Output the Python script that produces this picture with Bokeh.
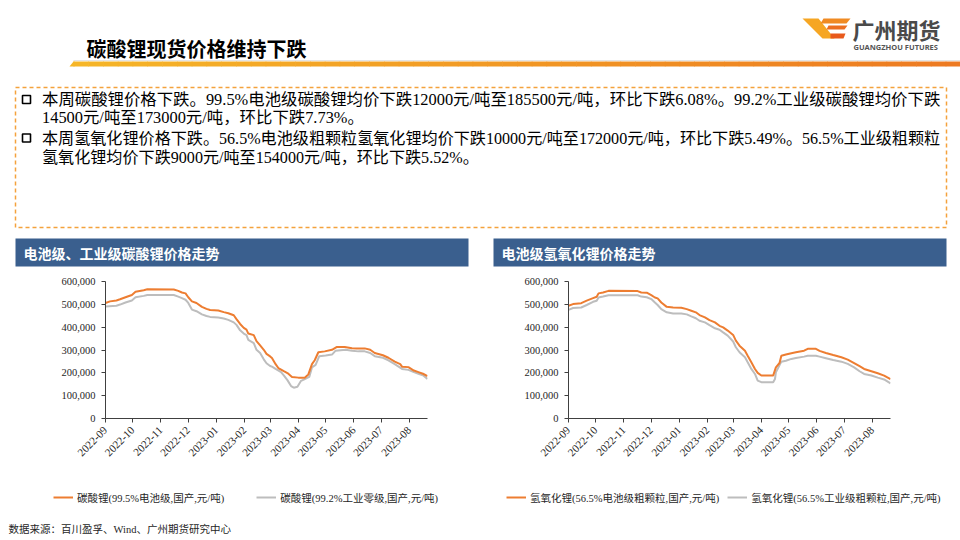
import math
import pandas as pd
from bokeh.plotting import figure
from bokeh.models import (Range1d, FixedTicker, DatetimeTickFormatter, NumeralTickFormatter,
                          Legend, LegendItem)
from bokeh.layouts import column, row
from bokeh.embed import file_html
from bokeh.resources import INLINE
from bokeh.core.properties import value

# ---------------- data ----------------
carb_bat_dates = ["2022-09-01", "2022-09-06", "2022-09-13", "2022-09-17", "2022-09-23", "2022-09-30",
                  "2022-10-04", "2022-10-13", "2022-10-17", "2022-11-15", "2022-11-20", "2022-11-24",
                  "2022-11-28", "2022-12-01", "2022-12-05", "2022-12-10", "2022-12-16", "2022-12-21",
                  "2022-12-25", "2023-01-03", "2023-01-09", "2023-01-14", "2023-01-20", "2023-01-23",
                  "2023-01-27", "2023-01-31", "2023-02-03", "2023-02-05", "2023-02-11", "2023-02-14",
                  "2023-02-18", "2023-02-22", "2023-02-25", "2023-03-01", "2023-03-03", "2023-03-07",
                  "2023-03-10", "2023-03-16", "2023-03-21", "2023-03-25", "2023-04-01", "2023-04-08",
                  "2023-04-12", "2023-04-16", "2023-04-19", "2023-04-23", "2023-04-30", "2023-05-08",
                  "2023-05-13", "2023-05-22", "2023-05-30", "2023-06-04", "2023-06-13", "2023-06-19",
                  "2023-06-24", "2023-07-03", "2023-07-09", "2023-07-16", "2023-07-22", "2023-07-24",
                  "2023-07-31", "2023-08-06", "2023-08-11", "2023-08-16", "2023-08-21"]
carb_bat = [506000, 513000, 517000, 522000, 531000, 541000,
            555000, 562000, 566000, 565000, 559000, 552000,
            548000, 531000, 513000, 506000, 489000, 480000,
            475000, 473000, 466000, 461000, 452000, 435000,
            414000, 397000, 389000, 372000, 365000, 339000,
            320000, 301000, 283000, 272000, 265000, 238000,
            221000, 207000, 196000, 182000, 179000, 179000,
            193000, 238000, 255000, 290000, 294000, 301000,
            313000, 313000, 308000, 307000, 307000, 301000,
            287000, 277000, 266000, 249000, 238000, 227000,
            225000, 210000, 203000, 196000, 185500]

carb_ind_dates = ["2022-09-01", "2022-09-13", "2022-09-17", "2022-09-23", "2022-09-30", "2022-10-04",
                  "2022-10-13", "2022-10-17", "2022-11-15", "2022-11-20", "2022-11-24", "2022-11-28",
                  "2022-12-01", "2022-12-05", "2022-12-10", "2022-12-16", "2022-12-21", "2022-12-25",
                  "2023-01-03", "2023-01-09", "2023-01-14", "2023-01-20", "2023-01-23", "2023-01-27",
                  "2023-01-31", "2023-02-03", "2023-02-05", "2023-02-11", "2023-02-14", "2023-02-18",
                  "2023-02-22", "2023-02-25", "2023-03-01", "2023-03-03", "2023-03-07", "2023-03-13",
                  "2023-03-16", "2023-03-20", "2023-03-24", "2023-03-27", "2023-03-31", "2023-04-04",
                  "2023-04-07", "2023-04-13", "2023-04-16", "2023-04-20", "2023-04-24", "2023-05-01",
                  "2023-05-08", "2023-05-12", "2023-05-23", "2023-05-30", "2023-06-06", "2023-06-13",
                  "2023-06-19", "2023-06-24", "2023-07-03", "2023-07-09", "2023-07-16", "2023-07-24",
                  "2023-07-31", "2023-08-06", "2023-08-11", "2023-08-16", "2023-08-21"]
carb_ind = [491000, 494000, 499000, 508000, 517000, 531000,
            537000, 541000, 541000, 534000, 527000, 520000,
            506000, 477000, 470000, 456000, 449000, 445000,
            442000, 438000, 432000, 421000, 410000, 386000,
            372000, 365000, 344000, 330000, 301000, 287000,
            259000, 242000, 230000, 227000, 217000, 203000,
            189000, 168000, 142000, 135000, 139000, 165000,
            170000, 182000, 224000, 235000, 273000, 276000,
            280000, 297000, 301000, 297000, 294000, 294000,
            287000, 273000, 266000, 255000, 238000, 217000,
            213000, 203000, 196000, 189000, 173000]

hyd_bat_dates = ["2022-09-01", "2022-09-06", "2022-09-15", "2022-09-21", "2022-09-28", "2022-10-02",
                 "2022-10-04", "2022-10-09", "2022-10-15", "2022-11-16", "2022-11-20", "2022-11-26",
                 "2022-12-01", "2022-12-05", "2022-12-08", "2022-12-12", "2022-12-18", "2022-12-25",
                 "2023-01-03", "2023-01-09", "2023-01-14", "2023-01-19", "2023-01-23", "2023-01-29",
                 "2023-02-03", "2023-02-09", "2023-02-14", "2023-02-18", "2023-02-23", "2023-03-01",
                 "2023-03-04", "2023-03-08", "2023-03-14", "2023-03-17", "2023-03-21", "2023-03-25",
                 "2023-03-28", "2023-04-01", "2023-04-14", "2023-04-17", "2023-04-21", "2023-04-23",
                 "2023-04-28", "2023-05-04", "2023-05-09", "2023-05-18", "2023-05-22", "2023-05-31",
                 "2023-06-04", "2023-06-11", "2023-06-19", "2023-06-28", "2023-07-05", "2023-07-12",
                 "2023-07-18", "2023-07-23", "2023-07-31", "2023-08-07", "2023-08-14", "2023-08-21"]
hyd_bat = [494000, 501000, 505000, 516000, 527000, 533000,
           548000, 552000, 559000, 558000, 552000, 551000,
           540000, 530000, 526000, 508000, 489000, 486000,
           485000, 479000, 472000, 465000, 453000, 443000,
           431000, 421000, 406000, 399000, 385000, 366000,
           341000, 319000, 297000, 275000, 246000, 217000,
           200000, 188000, 188000, 224000, 243000, 275000,
           280000, 286000, 290000, 297000, 305000, 305000,
           296000, 287000, 278000, 268000, 258000, 243000,
           229000, 217000, 207000, 198000, 188000, 172000]

hyd_ind_dates = ["2022-09-01", "2022-09-06", "2022-09-15", "2022-09-21", "2022-09-28", "2022-10-02",
                 "2022-10-04", "2022-10-09", "2022-10-15", "2022-11-16", "2022-11-20", "2022-11-26",
                 "2022-12-01", "2022-12-05", "2022-12-08", "2022-12-12", "2022-12-18", "2022-12-25",
                 "2023-01-03", "2023-01-09", "2023-01-14", "2023-01-19", "2023-01-23", "2023-01-29",
                 "2023-02-03", "2023-02-09", "2023-02-14", "2023-02-18", "2023-02-23", "2023-03-01",
                 "2023-03-04", "2023-03-08", "2023-03-14", "2023-03-17", "2023-03-21", "2023-03-25",
                 "2023-03-28", "2023-04-01", "2023-04-14", "2023-04-16", "2023-04-17", "2023-04-23",
                 "2023-04-28", "2023-05-04", "2023-05-09", "2023-05-18", "2023-05-22", "2023-05-31",
                 "2023-06-04", "2023-06-11", "2023-06-19", "2023-06-28", "2023-07-05", "2023-07-12",
                 "2023-07-18", "2023-07-23", "2023-07-31", "2023-08-07", "2023-08-14", "2023-08-21"]
hyd_ind = [476000, 484000, 486000, 497000, 511000, 516000,
           530000, 534000, 540000, 540000, 534000, 531000,
           523000, 508000, 497000, 479000, 465000, 460000,
           460000, 456000, 447000, 439000, 428000, 421000,
           409000, 395000, 389000, 377000, 363000, 337000,
           312000, 290000, 268000, 246000, 217000, 195000,
           166000, 159000, 159000, 173000, 202000, 249000,
           253000, 261000, 265000, 271000, 275000, 275000,
           271000, 264000, 256000, 249000, 239000, 224000,
           207000, 195000, 188000, 179000, 171000, 154000]

month_ticks = ["2022-09-01", "2022-10-01", "2022-11-01", "2022-12-01", "2023-01-01", "2023-02-01",
               "2023-03-01", "2023-04-01", "2023-05-01", "2023-06-01", "2023-07-01", "2023-08-01"]
y_ticks = [0, 100000, 200000, 300000, 400000, 500000, 600000]

labels_left = ["碳酸锂(99.5%电池级,国产,元/吨)", "碳酸锂(99.2%工业零级,国产,元/吨)"]
labels_right = ["氢氧化锂(56.5%电池级粗颗粒,国产,元/吨)", "氢氧化锂(56.5%工业级粗颗粒,国产,元/吨)"]

page_title = "碳酸锂现货价格维持下跌"
chart_titles = ["电池级、工业级碳酸锂价格走势", "电池级氢氧化锂价格走势"]
body_lines = [
    "本周碳酸锂价格下跌。99.5%电池级碳酸锂均价下跌12000元/吨至185500元/吨，环比下跌6.08%。99.2%工业级碳酸锂均价下跌",
    "14500元/吨至173000元/吨，环比下跌7.73%。",
    "本周氢氧化锂价格下跌。56.5%电池级粗颗粒氢氧化锂均价下跌10000元/吨至172000元/吨，环比下跌5.49%。56.5%工业级粗颗粒",
    "氢氧化锂均价下跌9000元/吨至154000元/吨，环比下跌5.52%。",
]
source_text = "数据来源：百川盈孚、Wind、广州期货研究中心"

# ---------------- styles ----------------
SANS = "Noto Sans CJK SC"
SERIF = "Liberation Serif, Noto Sans CJK SC"
ORANGE = "#ED7D31"
GRAY = "#BDBDBD"
BLUE = "#3A5F8E"
W = 960


def blank(width, height):
    f = figure(width=width, height=height, x_range=Range1d(0, width), y_range=Range1d(height, 0),
               x_axis_location=None, y_axis_location=None, output_backend="svg",
               toolbar_location=None, min_border=0)
    f.grid.visible = False
    f.outline_line_color = None
    return f


# ---------------- header figure ----------------
top = blank(W, 270)

# gradient rule under the title
n = 60
x0, x1 = 73, W
xs = [x0 + (x1 - x0) * i / n for i in range(n + 1)]
c0, c1 = (246, 182, 40), (237, 122, 34)
cols = ["#%02x%02x%02x" % tuple(int(c0[k] + (c1[k] - c0[k]) * i / (n - 1)) for k in range(3))
        for i in range(n)]
top.segment(x0=[73], y0=[60], x1=[W], y1=[60], line_color="#E3E3E3", line_width=1)
top.quad(left=xs[:-1], right=[v + 0.6 for v in xs[1:]], top=61, bottom=66, color=cols, line_width=0)
top.patch(x=[69, 73, 74, 74], y=[66, 61, 61, 66], color=cols[0], line_width=0)

# title
top.text(x=[86], y=[48], text=[page_title], text_font=value(SANS), text_font_style="bold",
         text_font_size="20px", text_baseline="middle", text_color="#000000")

# logo
top.patches(xs=[[802, 818, 834, 822], [823, 850, 846, 820], [828, 847, 844, 826], [830, 845, 843, 830]],
            ys=[[18, 18, 38, 38], [18, 18, 23, 23], [25, 25, 29, 29], [33, 33, 38, 38]],
            color=["#F6A623", "#F08A22", "#EC6E1F", "#E85A1C"], line_width=0)
top.text(x=[852], y=[28], text=["广州期货"], text_font=value(SANS), text_font_style="bold",
         text_font_size="22px", text_baseline="middle", text_color="#4A4A4A")
top.text(x=[853], y=[46], text=["GUANGZHOU FUTURES"], text_font=value("Noto Sans"),
         text_font_style="bold", text_font_size="7.5px", text_baseline="middle", text_color="#555555")

# dashed box with text
top.quad(left=15, right=946, top=87, bottom=227, fill_color=None, line_color="#F4A23C",
         line_dash="4 3", line_width=1.5)
top.scatter(x=[26, 26], y=[99, 137.5], marker="square", size=8, fill_color=None,
            line_color="#000000", line_width=1.6)
top.text(x=[41.5] * 2, y=[99, 116.5], text=body_lines[:2], text_font=value(SERIF),
         text_font_size="16.4px", text_baseline="middle", text_color="#000000")
top.text(x=[41.5] * 2, y=[137.5, 156.5], text=body_lines[2:], text_font=value(SERIF),
         text_font_size="16.1px", text_baseline="middle", text_color="#000000")

# blue chart headers
top.quad(left=[15, 493], right=[468, 946], top=238, bottom=266, color=BLUE, line_width=0)
top.text(x=[23, 501], y=[252, 252], text=chart_titles, text_font=value(SANS), text_font_style="bold",
         text_font_size="14px", text_baseline="middle", text_color="#FFFFFF")


# ---------------- charts ----------------
def make_chart(d1, v1, d2, v2, bl, br, bt, bb):
    f = figure(width=480, height=212, x_axis_type="datetime",
               x_range=Range1d(pd.Timestamp("2022-09-01"), pd.Timestamp("2023-08-21")),
               y_range=Range1d(0, 600000), output_backend="svg", toolbar_location=None,
               min_border_left=bl, min_border_right=br, min_border_top=bt, min_border_bottom=bb)
    f.grid.visible = False
    f.outline_line_color = None
    f.line(pd.to_datetime(d2), v2, line_color=GRAY, line_width=2)
    f.line(pd.to_datetime(d1), v1, line_color=ORANGE, line_width=2)

    f.yaxis.ticker = FixedTicker(ticks=y_ticks)
    f.yaxis.formatter = NumeralTickFormatter(format="0,0")
    f.xaxis.ticker = FixedTicker(ticks=[pd.Timestamp(t).timestamp() * 1000 for t in month_ticks])
    fmt = "%Y-%m"
    f.xaxis.formatter = DatetimeTickFormatter(milliseconds=fmt, seconds=fmt, minsec=fmt, minutes=fmt,
                                              hourmin=fmt, hours=fmt, days=fmt, months=fmt, years=fmt)
    f.xaxis.major_label_orientation = math.pi / 4
    for ax in (f.xaxis, f.yaxis):
        ax.axis_line_color = "#404040"
        ax.major_tick_line_color = "#404040"
        ax.major_tick_out = 4
        ax.major_tick_in = 0
        ax.minor_tick_line_color = None
        ax.major_label_text_font = SERIF
        ax.major_label_text_color = "#262626"
    f.yaxis.major_label_text_font_size = "10.5px"
    f.xaxis.major_label_text_font_size = "11px"
    f.yaxis.major_label_standoff = 6
    f.xaxis.major_label_standoff = 6
    return f


def make_legend(d1, v1, d2, v2, labels, vx, vy, spacing):
    # legend strip: the series are drawn here outside the visible range, only their legend shows
    f = figure(width=480, height=28, x_range=Range1d(0, 480), y_range=Range1d(0, 28),
               x_axis_location=None, y_axis_location=None, output_backend="svg",
               toolbar_location=None, min_border=0)
    f.grid.visible = False
    f.outline_line_color = None
    r1 = f.line(pd.to_datetime(d1), v1, line_color=ORANGE, line_width=2)
    r2 = f.line(pd.to_datetime(d2), v2, line_color=GRAY, line_width=2)
    legend = Legend(items=[LegendItem(label=labels[0], renderers=[r1]),
                           LegendItem(label=labels[1], renderers=[r2])],
                    location=(vx, vy), orientation="horizontal", spacing=spacing,
                    glyph_width=20, glyph_height=12, label_height=12, label_standoff=4,
                    padding=0, margin=0, border_line_color=None, background_fill_alpha=0,
                    label_text_font=SERIF, label_text_font_size="10.5px",
                    label_text_color="#262626")
    f.add_layout(legend)
    return f


left = make_chart(carb_bat_dates, carb_bat, carb_ind_dates, carb_ind, 105, 53, 9, 61)
right = make_chart(hyd_bat_dates, hyd_bat, hyd_ind_dates, hyd_ind, 88, 70, 11, 64)
leg_left = make_legend(carb_bat_dates, carb_bat, carb_ind_dates, carb_ind, labels_left, 53, 5.5, 32)
leg_right = make_legend(hyd_bat_dates, hyd_bat, hyd_ind_dates, hyd_ind, labels_right, 26, 5.5, 8)

# ---------------- footer ----------------
foot = blank(W, 30)
foot.text(x=[8], y=[19], text=[source_text], text_font=value(SERIF), text_font_size="10.5px",
          text_baseline="middle", text_color="#262626")

page = column(top, row(left, right, spacing=0), row(leg_left, leg_right, spacing=0), foot, spacing=0)
open("out.html", "w").write(file_html(page, INLINE))
